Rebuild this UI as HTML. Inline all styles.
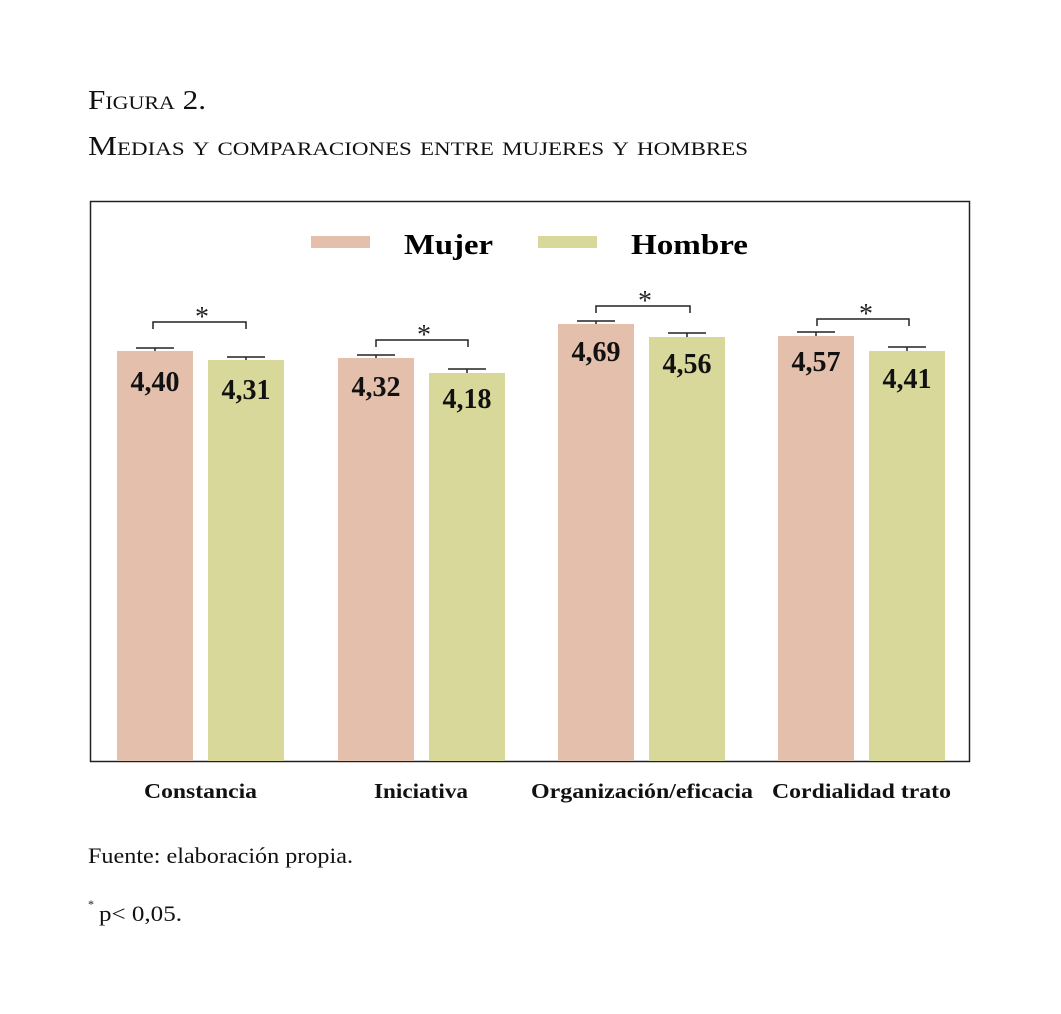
<!DOCTYPE html>
<html><head><meta charset="utf-8"><style>
body{margin:0;background:#fff;width:1061px;height:1014px;overflow:hidden}
svg{display:block}
</style></head><body>
<svg width="1061" height="1014" xmlns="http://www.w3.org/2000/svg" font-family="Liberation Serif, serif">
<text x="88" y="109" font-size="27" style="font-variant:small-caps" textLength="118" lengthAdjust="spacingAndGlyphs" fill="#111">Figura 2.</text>
<text x="88" y="155" font-size="27" style="font-variant:small-caps" textLength="660" lengthAdjust="spacingAndGlyphs" fill="#111">Medias y comparaciones entre mujeres y hombres</text>
<rect x="90.5" y="201.5" width="879" height="560" fill="none" stroke="#222" stroke-width="1.5"/>
<rect x="311" y="236" width="59" height="12" fill="#e3bfac"/>
<text x="404" y="254" font-size="28" font-weight="bold" textLength="89" lengthAdjust="spacingAndGlyphs">Mujer</text>
<rect x="538" y="236" width="59" height="12" fill="#d8d89a"/>
<text x="631" y="254" font-size="28" font-weight="bold" textLength="117" lengthAdjust="spacingAndGlyphs">Hombre</text>
<g fill="#e3bfac">
<rect x="117" y="351" width="76" height="410"/>
<rect x="338" y="358" width="76" height="403"/>
<rect x="558" y="324" width="76" height="437"/>
<rect x="778" y="336" width="76" height="425"/>
</g>
<g fill="#d8d89a">
<rect x="208" y="360" width="76" height="401"/>
<rect x="429" y="373" width="76" height="388"/>
<rect x="649" y="337" width="76" height="424"/>
<rect x="869" y="351" width="76" height="410"/>
</g>
<g stroke="#222" stroke-width="1.5" fill="none">
<path d="M136 348H174M155 348V351"/>
<path d="M227 357H265M246 357V360"/>
<path d="M357 355H395M376 355V358"/>
<path d="M448 369H486M467 369V373"/>
<path d="M577 321H615M596 321V324"/>
<path d="M668 333H706M687 333V337"/>
<path d="M797 332H835M816 332V336"/>
<path d="M888 347H926M907 347V351"/>
<path d="M153 329V322H246V329"/>
<path d="M376 347V340H468V347"/>
<path d="M596 313V306H690V313"/>
<path d="M817 326V319H909V326"/>
</g>
<g font-size="28" text-anchor="middle" fill="#222">
<text x="202" y="326">*</text><text x="424" y="344">*</text><text x="645" y="310">*</text><text x="866" y="323">*</text>
</g>
<g font-size="28" font-weight="bold" text-anchor="middle" fill="#111">
<text x="155" y="391">4,40</text><text x="246" y="399">4,31</text>
<text x="376" y="396">4,32</text><text x="467" y="408">4,18</text>
<text x="596" y="361">4,69</text><text x="687" y="373">4,56</text>
<text x="816" y="371">4,57</text><text x="907" y="388">4,41</text>
</g>
<g font-size="21" font-weight="bold" fill="#111">
<text x="144" y="798" textLength="113" lengthAdjust="spacingAndGlyphs">Constancia</text><text x="374" y="798" textLength="94" lengthAdjust="spacingAndGlyphs">Iniciativa</text>
<text x="531" y="798" textLength="222" lengthAdjust="spacingAndGlyphs">Organización/eficacia</text><text x="772" y="798" textLength="179" lengthAdjust="spacingAndGlyphs">Cordialidad trato</text>
</g>
<text x="88" y="863" font-size="22" textLength="265" lengthAdjust="spacingAndGlyphs" fill="#111">Fuente: elaboración propia.</text>
<text x="88" y="908" font-size="12" fill="#111">*</text>
<text x="99" y="921" font-size="22" textLength="83" lengthAdjust="spacingAndGlyphs" fill="#111">p&lt; 0,05.</text>
</svg>
</body></html>
